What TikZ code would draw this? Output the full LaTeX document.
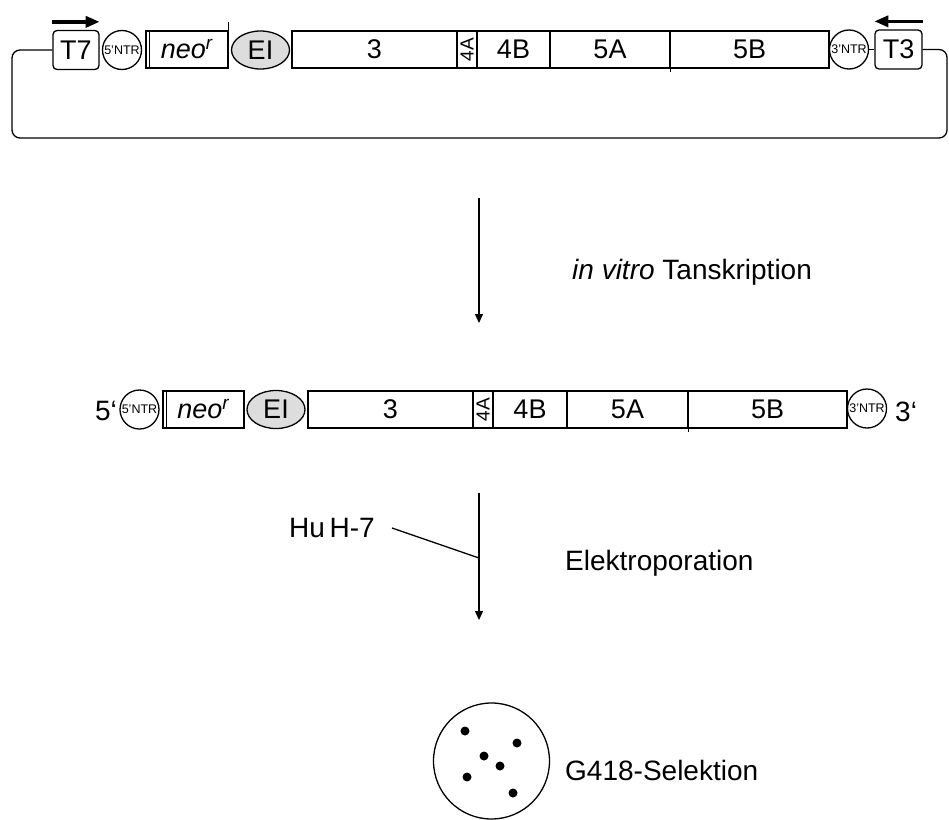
\documentclass[tikz,border=0pt]{standalone}
\usepackage{fontspec}
\setmainfont{Liberation Sans}
\usetikzlibrary{arrows.meta,shapes.geometric}
\definecolor{IresGray}{HTML}{DDDDDD}

\tikzset{
  genebox/.style={draw,line width=1.3pt,minimum height=37pt,inner sep=0pt,
                  font=\fontsize{27}{30}\selectfont},
  promoter/.style={draw,line width=1.3pt,rounded corners=4pt,minimum width=46pt,
                   minimum height=39pt,inner sep=0pt,font=\fontsize{27}{30}\selectfont},
  ntrcircle/.style={draw,circle,line width=1.3pt,minimum size=39pt,inner sep=0pt,
                    font=\fontsize{12.5}{14}\selectfont},
  ires/.style={draw,ellipse,line width=1.3pt,fill=IresGray,minimum width=58pt,
               minimum height=38pt,inner sep=0pt,font=\fontsize{27}{30}\selectfont},
  smallbox/.style={genebox,minimum width=20pt},
  smalltext/.style={rotate=90,inner sep=0pt,font=\fontsize{19}{21}\selectfont},
  biglabel/.style={inner sep=0pt,font=\fontsize{28}{33}\selectfont},
  flow/.style={-{Triangle[length=9pt,width=8pt]},line width=1.3pt},
  direction/.style={-{Triangle[length=14pt,width=11pt]},line width=3.5pt}
}

\begin{document}
\begin{tikzpicture}[x=1pt,y=-1pt]
    \useasboundingbox (0,0) rectangle (949,819);

    % plasmid
    \node[promoter] (t7) at (76,50) {T7};
    \node[ntrcircle] (ntrfive) at (122,50) {5'NTR};
    \node[genebox,minimum width=82pt] (neo) at (187,49.5) {\textit{neo}\textsuperscript{\textit{r}}};
    \node[ires] (ei) at (260.5,50) {EI};
    \node[genebox,minimum width=165pt] (nsthree) at (374.5,49.5) {3};
    \node[smallbox] (nsfoura) at (467,49.5) {};
    \node[smalltext] at (nsfoura) {4A};
    \node[genebox,minimum width=73pt] (nsfourb) at (513.5,49.5) {4B};
    \node[genebox,minimum width=120pt] (nsfivea) at (610,49.5) {5A};
    \node[genebox,minimum width=159pt] (nsfiveb) at (749.5,49.5) {5B};
    \node[ntrcircle] (ntrthree) at (849,49.5) {3'NTR};
    \node[promoter,minimum width=47pt] (t3) at (898.5,49.5) {T3};
    \draw[line width=1.3pt] ([xshift=4pt]neo.north west) -- ([xshift=4pt]neo.south west);
    \draw[line width=1.3pt] (neo.south east) -- ([yshift=8pt]neo.north east);
    \draw[line width=1.3pt] (nsfivea.north east) -- ([yshift=-3pt]nsfivea.south east);
    \draw[direction] ([yshift=8pt]t7.north west) -- ([yshift=8pt]t7.north east);
    \draw[direction] ([yshift=8pt]t3.north east) -- ([yshift=8pt]t3.north west);
    \draw[line width=1.3pt] (ntrthree) -- (t3);
    \coordinate (loopright) at (947,138);
    \coordinate (loopleft) at (12,138);
    \draw[line width=1.3pt,rounded corners=8pt] (t3.east) -| (loopright) -- (loopleft) |- (t7.west);

    % transcription
    \coordinate (txstart) at (479,198);
    \coordinate (txend) at (479,323);
    \draw[flow] (txstart) -- (txend);
    \node[biglabel,anchor=west] (txlabel) at (572,272) {\textit{in vitro} Tanskription};

    % RNA
    \node[biglabel,anchor=east] (fiveend) at (117,411) {5‘};
    \node[ntrcircle] (rntrfive) at (139.5,409.5) {5'NTR};
    \node[genebox,minimum width=81pt] (rneo) at (203.5,409.5) {\textit{neo}\textsuperscript{\textit{r}}};
    \node[ires] (rei) at (276,409.5) {\raisebox{-5pt}{EI}};
    \node[genebox,minimum width=165pt] (rnsthree) at (390.5,409.5) {3};
    \node[smallbox] (rnsfoura) at (483,409.5) {};
    \node[smalltext] at (rnsfoura) {4A};
    \node[genebox,minimum width=74pt] (rnsfourb) at (530,409.5) {4B};
    \node[genebox,minimum width=121pt] (rnsfivea) at (627.5,409.5) {5A};
    \node[genebox,minimum width=159pt] (rnsfiveb) at (767.5,409.5) {5B};
    \node[ntrcircle] (rntrthree) at (867,408.5) {3'NTR};
    \node[biglabel,anchor=west] (threeend) at (895,412) {3‘};
    \draw[line width=1.3pt] ([xshift=4pt]rneo.north west) -- ([xshift=4pt]rneo.south west);
    \draw[line width=1.3pt] (rnsfivea.north east) -- ([yshift=-3pt]rnsfivea.south east);

    % electroporation
    \coordinate (elstart) at (479,493);
    \coordinate (elend) at (479,620);
    \coordinate (elhit) at (479,558);
    \draw[flow] (elstart) -- (elend);
    \node[biglabel,anchor=west] (huh) at (289,528) {Hu\,H-7};
    \draw[line width=1.3pt] ([xshift=17pt]huh.east) -- (elhit);
    \node[biglabel,anchor=west] (ellabel) at (565,563) {Elektroporation};

    % selection
    \node[draw,circle,line width=1.3pt,minimum size=116pt,inner sep=0pt] (dish) at (491.5,761) {};
    \foreach \dx/\dy in {465/731,517/743,484/756,500/766,467/777,513/793}
      \fill (\dx,\dy) circle (4.5pt);
    \node[biglabel,anchor=west] (sellabel) at (565,770) {G418-Selektion};
  \end{tikzpicture}
\end{document}
